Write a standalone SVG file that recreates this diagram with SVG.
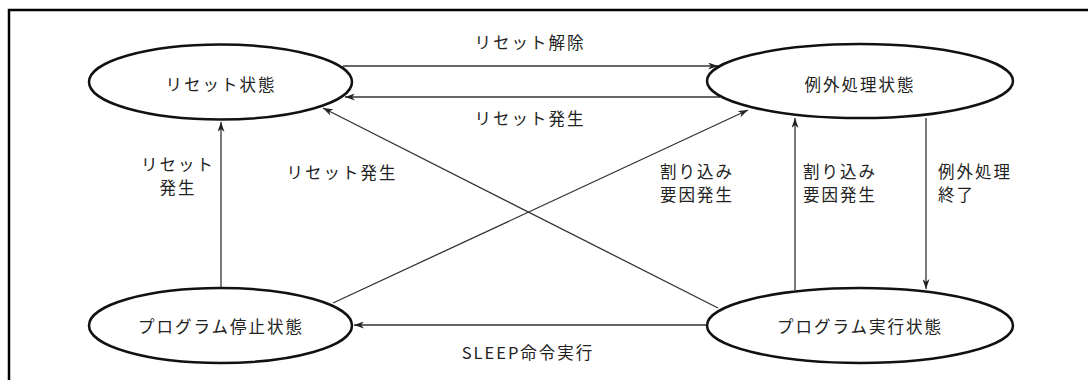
<svg xmlns="http://www.w3.org/2000/svg" width="1088" height="380" viewBox="0 0 1088 380">
<style>
.node{fill:#fff;stroke:#111;stroke-width:2.5}
.t{font-family:"Noto Sans CJK JP","Noto Sans",sans-serif;font-size:16.5px;letter-spacing:2px;fill:#222}
.c{stroke:#333;stroke-width:1.3;fill:none;marker-end:url(#ah)}
</style>
<defs>
<marker id="ah" viewBox="0 0 10 7" refX="10" refY="3.5" markerWidth="10" markerHeight="7" markerUnits="userSpaceOnUse" orient="auto">
<path d="M0,0 L10,3.5 L0,7 L3,3.5 z" fill="#222"/>
</marker>
</defs>
<rect width="1088" height="380" fill="#fff"/>
<path d="M9,380 V10 H1088" fill="none" stroke="#000" stroke-width="2.5"/>
<g id="connectors">
<line class="c" x1="343" y1="66" x2="718" y2="66"/>
<line class="c" x1="720" y1="97" x2="345" y2="97"/>
<line class="c" x1="221" y1="288" x2="221" y2="122"/>
<line class="c" x1="718" y1="308" x2="323" y2="108"/>
<line class="c" x1="333" y1="303" x2="748" y2="110"/>
<line class="c" x1="795" y1="290" x2="795" y2="118"/>
<line class="c" x1="926" y1="118" x2="926" y2="289"/>
<line class="c" x1="707" y1="325" x2="354" y2="325"/>
</g>
<g id="labels">
<text class="t" x="530" y="49" text-anchor="middle">リセット解除</text>
<text class="t" x="530" y="125" text-anchor="middle">リセット発生</text>
<text class="t" x="178" y="171" text-anchor="middle">リセット</text>
<text class="t" x="178" y="194" text-anchor="middle">発生</text>
<text class="t" x="342" y="179" text-anchor="middle">リセット発生</text>
<text class="t" x="660" y="178">割り込み</text>
<text class="t" x="660" y="201">要因発生</text>
<text class="t" x="803" y="178">割り込み</text>
<text class="t" x="803" y="201">要因発生</text>
<text class="t" x="938" y="178">例外処理</text>
<text class="t" x="938" y="201">終了</text>
<text class="t" x="528" y="359" text-anchor="middle">SLEEP命令実行</text>
</g>
<g id="reset">
<ellipse class="node" cx="220.5" cy="82" rx="131.5" ry="37.5"/>
<text class="t" x="221" y="91" text-anchor="middle">リセット状態</text>
</g>
<g id="exception">
<ellipse class="node" cx="860" cy="81" rx="153" ry="37"/>
<text class="t" x="860" y="91" text-anchor="middle">例外処理状態</text>
</g>
<g id="stop">
<ellipse class="node" cx="220.5" cy="325.5" rx="131.5" ry="37.5"/>
<text class="t" x="221" y="333" text-anchor="middle">プログラム停止状態</text>
</g>
<g id="run">
<ellipse class="node" cx="860" cy="325.5" rx="153" ry="37.5"/>
<text class="t" x="860" y="333" text-anchor="middle">プログラム実行状態</text>
</g>
</svg>
